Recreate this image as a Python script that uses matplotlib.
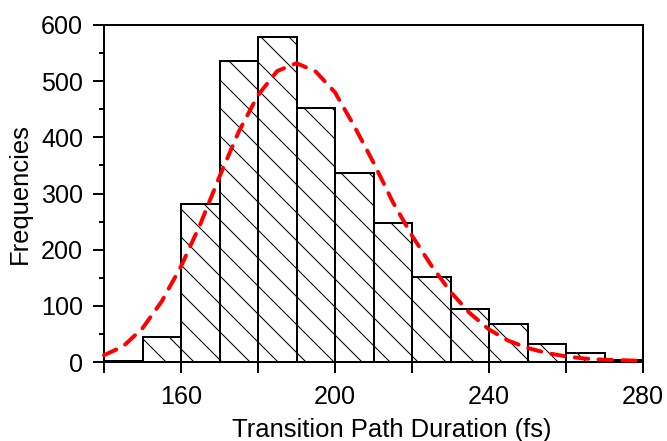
import matplotlib
matplotlib.use("Agg")
import matplotlib.pyplot as plt
from matplotlib.ticker import MultipleLocator, FuncFormatter

# Histogram data (bin edges, width 10 fs)
bin_edges = [140, 150, 160, 170, 180, 190, 200, 210, 220, 230, 240, 250, 260, 270, 280]
counts = [2, 44, 281, 536, 579, 452, 336, 247, 151, 95, 67, 32, 16, 3]

# Fitted curve
fit_x = [140, 145, 150, 155, 160, 165, 170, 175, 180, 185, 190, 195, 200, 205, 210,
         215, 220, 225, 230, 235, 240, 245, 250, 255, 260, 265, 270, 275, 280]
fit_y = [12, 28, 60, 108, 170, 245, 330, 410, 475, 518, 532, 517, 480, 420, 355,
         285, 225, 172, 125, 87, 58, 38, 25, 16, 10, 6, 4, 3, 2]

x_label_ticks = [160, 200, 240, 280]

DPI = 84
plt.rcParams['font.family'] = ['Liberation Sans', 'DejaVu Sans']
plt.rcParams['hatch.linewidth'] = 0.9

fig = plt.figure(figsize=(667 / DPI, 441 / DPI), dpi=DPI)
ax = fig.add_axes([104 / 667, 79 / 441, 539 / 667, 337 / 441])

lefts = bin_edges[:-1]
widths = [b - a for a, b in zip(bin_edges[:-1], bin_edges[1:])]
ax.bar(lefts, counts, width=widths, align='edge', facecolor='white',
       edgecolor='black', linewidth=1.7, hatch='\\')

ax.plot(fit_x, fit_y, color='#ff0000', linewidth=3.4,
        linestyle=(0, (3.4, 2.6)), dash_capstyle='round', clip_on=False, zorder=5)

ax.set_xlim(140, 280)
ax.set_ylim(0, 600)

ax.xaxis.set_major_locator(MultipleLocator(20))
ax.xaxis.set_major_formatter(FuncFormatter(
    lambda v, p: f"{int(round(v))}" if int(round(v)) in x_label_ticks else ""))
ax.yaxis.set_major_locator(MultipleLocator(100))
ax.yaxis.set_minor_locator(MultipleLocator(50))

for s in ax.spines.values():
    s.set_linewidth(1.7)

ax.tick_params(axis='x', which='major', direction='out', length=9.4, width=1.7,
               labelsize=21.5, pad=10)
ax.tick_params(axis='y', which='major', direction='out', length=9.5, width=1.7,
               labelsize=21.5, pad=8.5)
ax.tick_params(axis='y', which='minor', direction='out', length=4.5, width=1.7)
ax.tick_params(top=False, right=False)

ax.set_xlabel('Transition Path Duration (fs)', fontsize=22)
ax.xaxis.set_label_coords(0.534, -0.166)
ax.set_ylabel('Frequencies', fontsize=22)
ax.yaxis.set_label_coords(-0.1336, 0.5)

fig.savefig('out.png', dpi=DPI)
